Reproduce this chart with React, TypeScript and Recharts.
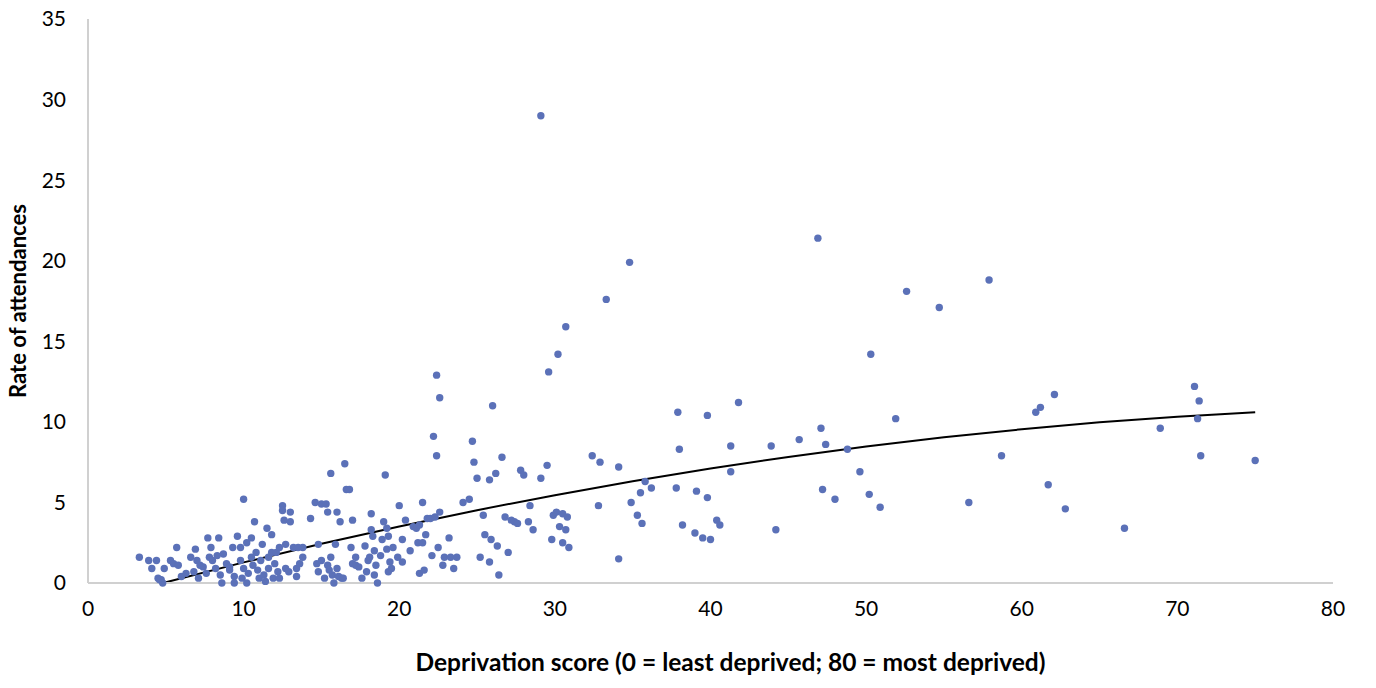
import React from 'react';
import {
  ComposedChart,
  Scatter,
  Line,
  XAxis,
  YAxis,
  ZAxis,
} from 'recharts';

// deprivation score per area (x) and attendance rate (y)
const depScore: number[] = [
  3.3, 3.9, 4.1, 4.4, 4.5, 4.7, 4.8, 4.6, 4.9, 5.3, 5.5, 5.7, 5.8, 6.0, 6.3, 6.6, 6.8, 6.9, 7.0, 7.1,
  7.2, 7.4, 7.6, 7.7, 7.8, 7.9, 8.0, 8.2, 8.3, 8.4, 8.5, 8.6, 8.7, 8.9, 9.1, 9.1, 9.3, 9.4, 9.4, 9.6,
  9.8, 9.8, 9.9, 10.0, 10.0, 10.2, 10.2, 10.3, 10.5, 10.5, 10.6, 10.7, 10.8, 10.9, 11.0, 11.1, 11.2, 11.3, 11.4, 11.5,
  11.6, 11.6, 11.8, 11.8, 11.9, 12.0, 12.1, 12.2, 12.3, 12.3, 12.5, 12.5, 12.6, 12.7, 12.7, 12.9, 13.0, 13.0, 13.2, 13.4,
  13.4, 13.5, 13.6, 13.8, 13.8, 14.3, 14.6, 14.7, 14.8, 14.8, 15.0, 15.0, 15.2, 15.3, 15.4, 15.4, 15.5, 15.6, 15.6, 15.7,
  15.8, 15.9, 16.0, 16.0, 16.1, 16.2, 16.3, 16.4, 16.5, 16.6, 16.8, 16.9, 17.0, 17.0, 17.2, 17.2, 17.4, 17.6, 17.8, 17.9,
  18.0, 18.1, 18.2, 18.2, 18.3, 18.4, 18.4, 18.5, 18.6, 18.8, 18.9, 19.0, 19.1, 19.2, 19.2, 19.3, 19.3, 19.4, 19.5, 19.6,
  19.9, 20.0, 20.2, 20.2, 20.4, 20.7, 20.9, 21.1, 21.2, 21.3, 21.3, 21.5, 21.5, 21.6, 21.7, 21.8, 22.0, 22.1, 22.2, 22.3,
  22.4, 22.4, 22.5, 22.6, 22.6, 22.8, 22.9, 23.2, 23.3, 23.5, 23.7, 24.1, 24.5, 24.7, 24.8, 25.0, 25.2, 25.4, 25.5, 25.8,
  25.8, 25.9, 26.0, 26.2, 26.3, 26.4, 26.6, 26.8, 27.0, 27.2, 27.4, 27.6, 27.8, 28.0, 28.3, 28.4, 28.6, 29.1, 29.1, 29.5,
  29.6, 29.8, 29.9, 30.1, 30.2, 30.3, 30.5, 30.5, 30.7, 30.7, 30.8, 30.9, 32.4, 32.9, 32.8, 33.3, 34.1, 34.1, 34.8, 34.9,
  35.3, 35.5, 35.6, 35.8, 36.2, 37.8, 37.9, 38.0, 38.2, 39.0, 39.1, 39.5, 39.8, 39.8, 40.0, 40.4, 40.6, 41.3, 41.3, 41.8,
  43.9, 44.2, 45.7, 46.9, 47.1, 47.2, 47.4, 48.0, 48.8, 49.6, 50.3, 50.2, 50.9, 51.9, 52.6, 54.7, 56.6, 57.9, 58.7, 60.9,
  61.2, 61.7, 62.1, 62.8, 66.6, 68.9, 71.1, 71.4, 71.3, 71.5, 75.0,
];

const attendRate: number[] = [
  1.6, 1.4, 0.9, 1.4, 0.3, 0.2, 0.0, 0.2, 0.9, 1.4, 1.2, 2.2, 1.1, 0.4, 0.6, 1.6, 0.7, 2.1, 1.4, 0.3,
  1.1, 1.0, 0.6, 2.8, 1.6, 2.2, 1.4, 0.9, 1.7, 2.8, 0.5, 0.0, 1.8, 1.2, 0.8, 1.0, 2.2, 0.4, 0.0, 2.9,
  1.4, 2.2, 0.3, 5.2, 0.9, 2.5, 0.0, 0.6, 1.6, 2.8, 1.1, 3.8, 1.9, 0.8, 0.3, 1.4, 2.4, 0.5, 0.1, 3.4,
  1.6, 0.9, 3.0, 1.9, 0.3, 1.2, 1.9, 0.7, 2.2, 0.3, 4.8, 4.5, 3.9, 2.4, 0.9, 0.7, 4.4, 3.8, 2.2, 0.9,
  0.4, 2.2, 1.2, 2.2, 1.6, 4.0, 5.0, 1.2, 0.7, 2.4, 4.9, 1.4, 0.3, 4.9, 1.1, 4.4, 0.8, 1.6, 6.8, 0.5,
  0.0, 2.4, 4.4, 0.9, 0.4, 3.8, 0.3, 0.3, 7.4, 5.8, 5.8, 2.2, 1.2, 3.9, 1.6, 1.1, 1.0, 0.3, 2.3, 0.7,
  1.4, 1.6, 4.3, 3.3, 2.9, 2.0, 0.5, 1.1, 0.0, 1.7, 2.7, 3.8, 6.7, 2.1, 3.4, 0.7, 2.9, 1.3, 0.9, 2.2,
  1.6, 4.8, 2.7, 1.3, 3.9, 2.0, 3.5, 3.4, 2.5, 3.6, 0.6, 5.0, 2.5, 0.8, 3.0, 4.0, 4.0, 1.7, 9.1, 4.1,
  7.9, 12.9, 2.2, 11.5, 4.4, 1.1, 1.6, 2.8, 1.6, 0.9, 1.6, 5.0, 5.2, 8.8, 7.5, 6.5, 1.6, 4.2, 3.0, 6.4,
  1.3, 2.7, 11.0, 6.8, 2.3, 0.5, 7.8, 4.1, 1.9, 3.9, 3.8, 3.7, 7.0, 6.7, 3.8, 4.8, 3.3, 29.0, 6.5, 7.3,
  13.1, 2.7, 4.2, 4.4, 14.2, 3.5, 4.3, 2.5, 15.9, 3.3, 4.1, 2.2, 7.9, 7.5, 4.8, 17.6, 7.2, 1.5, 19.9, 5.0,
  4.2, 5.6, 3.7, 6.3, 5.9, 5.9, 10.6, 8.3, 3.6, 3.1, 5.7, 2.8, 10.4, 5.3, 2.7, 3.9, 3.6, 8.5, 6.9, 11.2,
  8.5, 3.3, 8.9, 21.4, 9.6, 5.8, 8.6, 5.2, 8.3, 6.9, 14.2, 5.5, 4.7, 10.2, 18.1, 17.1, 5.0, 18.8, 7.9, 10.6,
  10.9, 6.1, 11.7, 4.6, 3.4, 9.6, 12.2, 11.3, 10.2, 7.9, 7.6,
];

// trend line, read at points along the drawn curve
const trendX: number[] = [4.8, 10, 15, 20, 25, 30, 35, 40, 45, 50, 55, 60, 65, 70, 75];
const trendY: number[] = [0, 1.28, 2.43, 3.51, 4.52, 5.45, 6.32, 7.11, 7.82, 8.47, 9.04, 9.54, 9.97, 10.32, 10.6];

const xTicks = [0, 10, 20, 30, 40, 50, 60, 70, 80];
const yTicks = [0, 5, 10, 15, 20, 25, 30, 35];

const points = depScore.map((x, i) => ({ x, y: attendRate[i] }));
const trend = trendX.map((x, i) => ({ x, y: trendY[i] }));

const FONT = 'Lato, "Open Sans", sans-serif';
const tickStyle = { fill: '#000', fontSize: 21, fontFamily: FONT };

const Dot = (props: any) => (
  <circle cx={props.cx} cy={props.cy} r={3.7} fill="#5B71B8" />
);

export default function App() {
  return (
    <div style={{ position: 'absolute', left: 0, top: 0, background: '#fff' }}>
      <ComposedChart
        width={1376}
        height={688}
        margin={{ top: 19, right: 43, left: 0, bottom: 55 }}
      >
        <XAxis
          dataKey="x"
          type="number"
          domain={[0, 80]}
          ticks={xTicks}
          allowDataOverflow
          height={50}
          tickLine={false}
          tickSize={0}
          tickMargin={18}
          axisLine={{ stroke: '#d0d0d0', strokeWidth: 2 }}
          tick={tickStyle}
          label={{
            value: 'Deprivation score (0 = least deprived; 80 = most deprived)',
            position: 'bottom',
            offset: 21,
            dx: 20,
            style: { fill: '#000', fontSize: 24.5, fontWeight: 700, fontFamily: FONT },
          }}
        />
        <YAxis
          dataKey="y"
          type="number"
          domain={[0, 35]}
          ticks={yTicks}
          width={88}
          tickLine={false}
          tickSize={0}
          tickMargin={22}
          axisLine={{ stroke: '#d0d0d0', strokeWidth: 2 }}
          tick={tickStyle}
          label={{
            value: 'Rate of attendances',
            angle: -90,
            position: 'insideLeft',
            offset: 18,
            style: { textAnchor: 'middle', fill: '#000', fontSize: 22, fontWeight: 700, fontFamily: FONT },
          }}
        />
        <ZAxis range={[40, 40]} />
        <Scatter data={points} shape={Dot} isAnimationActive={false} />
        <Line
          data={trend}
          dataKey="y"
          type="monotone"
          stroke="#000"
          strokeWidth={2}
          dot={false}
          activeDot={false}
          isAnimationActive={false}
        />
      </ComposedChart>
    </div>
  );
}
